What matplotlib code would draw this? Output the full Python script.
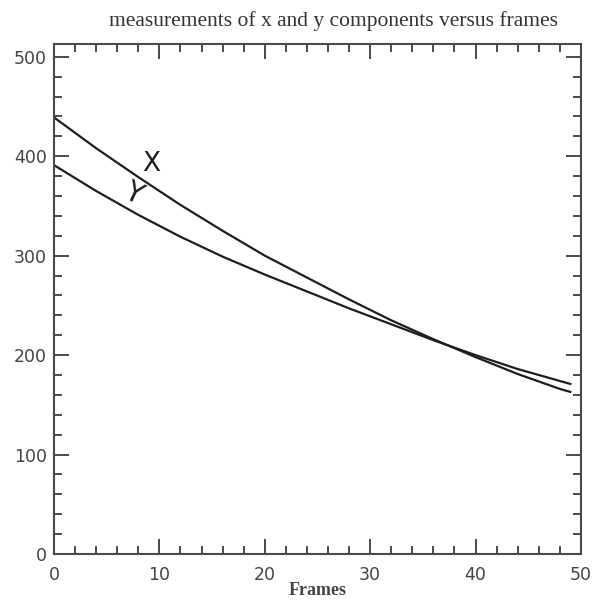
import matplotlib
matplotlib.use("Agg")
import matplotlib.pyplot as plt
from matplotlib.ticker import MultipleLocator

# values
frames = [0, 4, 8, 12, 16, 20, 24, 28, 32, 36, 40, 44, 48, 49]
x_comp = [439, 408, 379, 351, 325, 300, 278, 256, 235, 216, 198, 181, 166, 163]
y_comp = [391, 365, 341, 319, 299, 281, 264, 247, 231, 215, 200, 186, 174, 171]

title = "measurements of x and y components versus frames"
xlabel = "Frames"

axis_col = "#4a4a4a"
line_col = "#1e1e1e"

fig = plt.figure(figsize=(5.97, 6.03), dpi=100)
ax = fig.add_axes([0.0905, 0.0813, 0.8825, 0.846])

ax.plot(frames, x_comp, color=line_col, lw=1.6)
ax.plot(frames, y_comp, color=line_col, lw=1.6)

# hand written curve labels
ax.text(9.2, 392, "X", fontsize=19, color=line_col, ha="center", va="center")
ax.text(7.5, 363, "Y", fontsize=20, color=line_col, ha="center", va="center",
        rotation=-25)

ax.set_xlim(0, 50)
ax.set_ylim(0, 513)
ax.set_yticks([0, 100, 200, 300, 400, 500])
ax.xaxis.set_major_locator(MultipleLocator(10))
ax.xaxis.set_minor_locator(MultipleLocator(2))
ax.yaxis.set_minor_locator(MultipleLocator(20))

ax.tick_params(which="both", direction="in", top=True, right=True,
               color=axis_col, width=1.4, labelcolor="#444444",
               labelsize=12.5)
ax.tick_params(which="major", length=11)
ax.tick_params(which="minor", length=6)
ax.tick_params(axis="x", which="major", pad=9)
ax.tick_params(axis="y", which="major", pad=5)
for lab in ax.get_xticklabels() + ax.get_yticklabels():
    lab.set_family("DejaVu Sans")

for sp in ax.spines.values():
    sp.set_color(axis_col)
    sp.set_linewidth(1.5)

ax.set_title(title, family="Liberation Serif", fontsize=15.5,
             color="#333333", pad=13, x=0.53)
ax.set_xlabel(xlabel, family="Liberation Serif", fontsize=13,
              fontweight="bold", color="#444444", labelpad=-2)

fig.savefig("out.png", dpi=100, facecolor="white")
